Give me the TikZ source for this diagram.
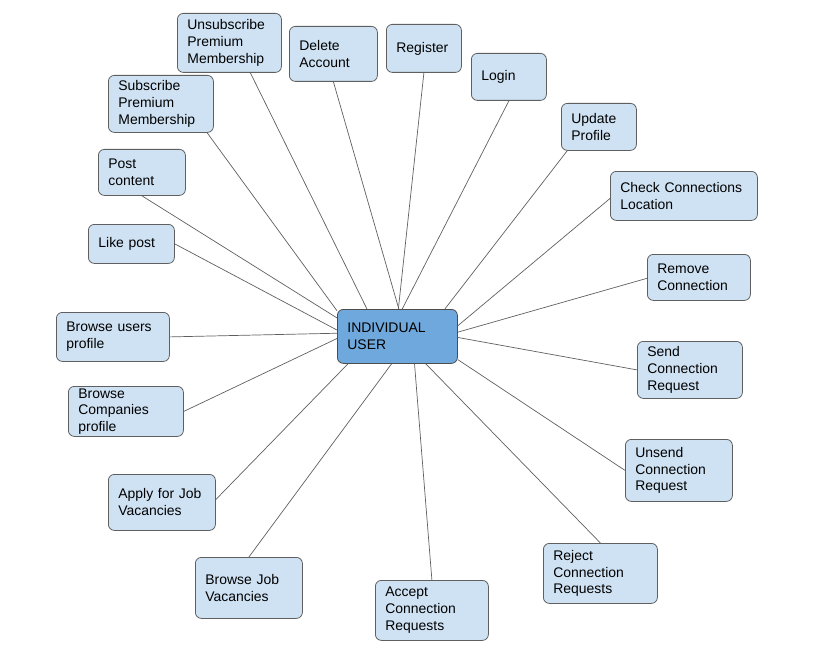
\documentclass[tikz,border=0pt]{standalone}
\usepackage{fontspec}
\setmainfont{Liberation Sans}
\definecolor{caseblue}{HTML}{CFE2F3}
\definecolor{userblue}{HTML}{6FA8DC}
\definecolor{edgegray}{HTML}{5F5F5F}

\begin{document}
\begin{tikzpicture}[x=1bp,y=-1bp,
    usecase/.style={draw=edgegray,fill=caseblue,rounded corners=6bp,line width=0.8bp,
      anchor=north west,align=left,inner xsep=10bp,inner ysep=1bp,
      font=\fontsize{14}{17}\selectfont},
    link/.style={edgegray,line width=0.7bp}]
    \useasboundingbox (0,0) rectangle (826,650);

    % actor in the middle
    \node[usecase,fill=userblue,draw=black!70,text width=100bp,minimum height=54bp] (user) at (337,309) {INDIVIDUAL\\USER};

    % use cases, clockwise from the top
    \node[usecase,text width=84bp,minimum height=59bp] (unsub) at (177,13) {Unsubscribe\\Premium\\Membership};
    \node[usecase,text width=68bp,minimum height=55bp] (delacc) at (289,26) {Delete\\Account};
    \node[usecase,text width=55bp,minimum height=48bp] (register) at (386,24) {Register};
    \node[usecase,text width=55bp,minimum height=47bp] (login) at (471,53) {Login};
    \node[usecase,text width=55bp,minimum height=47bp] (update) at (561,103) {Update\\Profile};
    \node[usecase,text width=127bp,minimum height=49bp] (checkloc) at (610,171) {Check Connections\\Location};
    \node[usecase,text width=83bp,minimum height=46bp] (remove) at (647,254) {Remove\\Connection};
    \node[usecase,text width=85bp,minimum height=57bp] (sendreq) at (637,341) {Send\\Connection\\Request};
    \node[usecase,text width=87bp,minimum height=62bp] (unsendreq) at (625,439) {Unsend\\Connection\\Request};
    \node[usecase,text width=94bp,minimum height=60bp] (rejectreq) at (543,543) {Reject\\Connection\\Requests};
    \node[usecase,text width=93bp,minimum height=60bp] (acceptreq) at (375,580) {Accept\\Connection\\Requests};
    \node[usecase,text width=87bp,minimum height=61bp] (browsejob) at (195,557) {Browse Job\\Vacancies};
    \node[usecase,text width=87bp,minimum height=56bp] (applyjob) at (108,474) {Apply for Job\\Vacancies};
    \node[usecase,text width=95bp,minimum height=50bp,inner ysep=0bp,
      font=\fontsize{14}{16.5}\selectfont] (browsecomp) at (68,386) {Browse\\Companies\\profile};
    \node[usecase,text width=93bp,minimum height=49bp] (browseusers) at (56,312) {Browse users\\profile};
    \node[usecase,text width=66bp,minimum height=39bp] (likepost) at (88,224) {Like post};
    \node[usecase,text width=67bp,minimum height=46bp] (postcont) at (98,149) {Post\\content};
    \node[usecase,text width=85bp,minimum height=57bp] (sub) at (108,75) {Subscribe\\Premium\\Membership};

    % connectors
    \draw[link] (unsub.305) -- (user.138);
    \draw[link] (delacc.270) -- (user.87);
    \draw[link] (register.270) -- (user.88);
    \draw[link] (login.270) -- (user.80);
    \draw[link] (update.217) -- (user.30);
    \draw[link] (checkloc.182) -- (user.10);
    \draw[link] (remove.181) -- (user.4);
    \draw[link] (sendreq.180) -- (user.359);
    \draw[link] (unsendreq.180) -- (user.339);
    \draw[link] (rejectreq.90) -- (user.316);
    \draw[link] (acceptreq.90) -- (user.302);
    \draw[link] (browsejob.90) -- (user.258);
    \draw[link] (applyjob.3) -- (user.209);
    \draw[link] (browsecomp.0) -- (user.182);
    \draw[link] (browseusers.0) -- (user.177);
    \draw[link] (likepost.0) -- (user.174);
    \draw[link] (postcont.270) -- (user.163);
    \draw[link] (sub.328) -- (user.157);
\end{tikzpicture}
\end{document}
